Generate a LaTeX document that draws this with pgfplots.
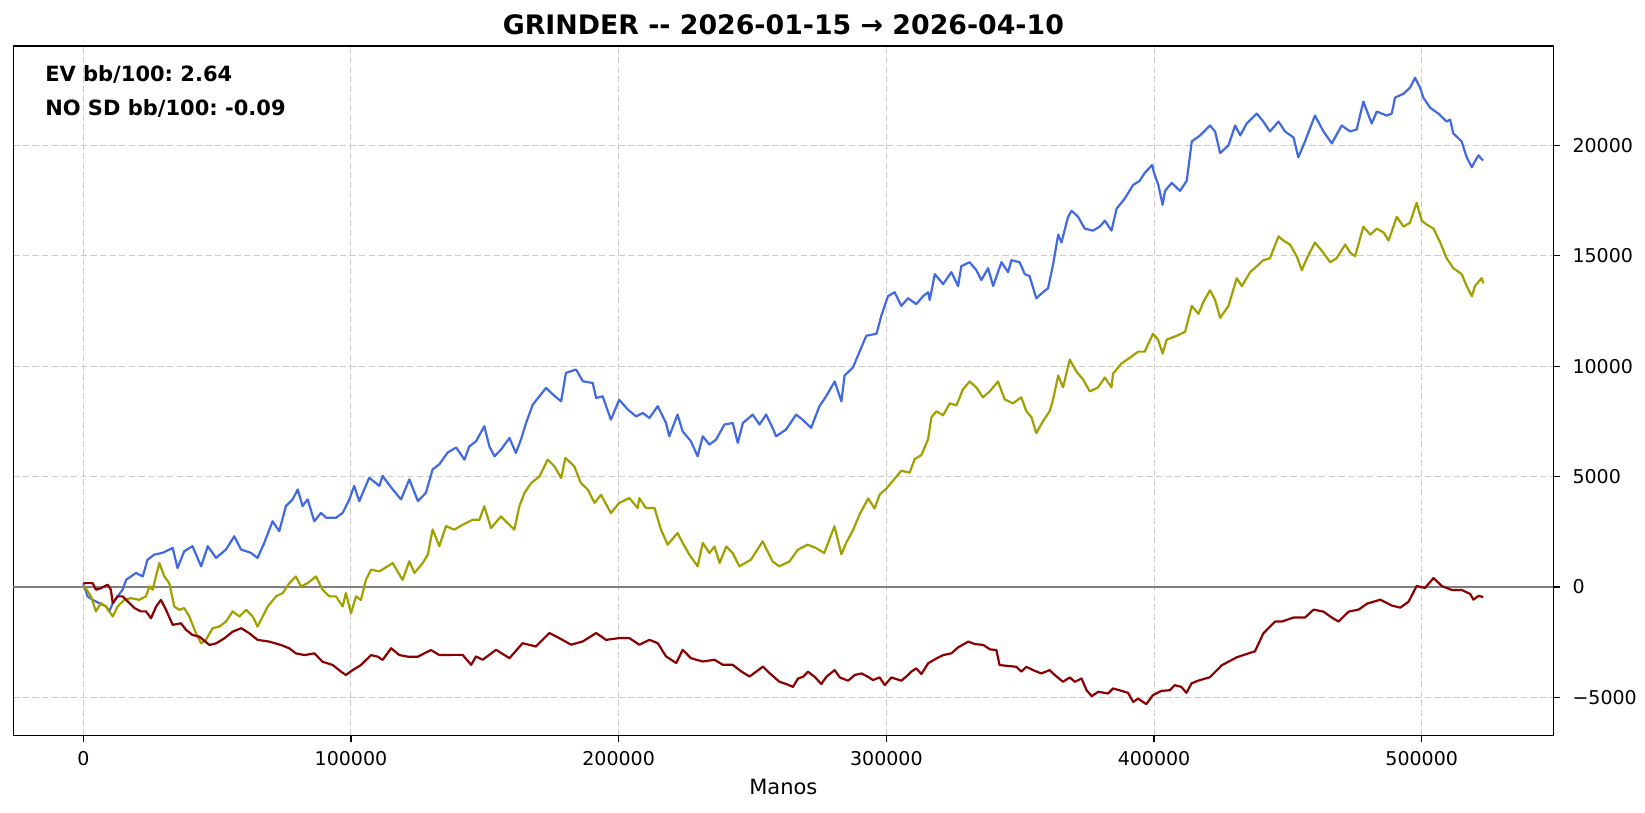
\documentclass[border=0pt]{standalone}
\usepackage{fontspec}
\setmainfont{DejaVu Sans}
\usepackage{pgfplots}
\pgfplotsset{compat=1.18}

\definecolor{evblue}{RGB}{65,105,225}
\definecolor{netolive}{RGB}{160,160,0}
\definecolor{nsdred}{RGB}{139,0,0}

\begin{document}
\frenchspacing
\begin{tikzpicture}
\begin{axis}[
  at={(0,0)}, anchor=south west,
  scale only axis,
  width=770pt, height=344.75pt,
  xmin=-26150, xmax=549150,
  ymin=-6720, ymax=24500,
  scaled ticks=false,
  xtick={0,100000,200000,300000,400000,500000},
  xticklabels={0,100000,200000,300000,400000,500000},
  ytick={-5000,0,5000,10000,15000,20000},
  yticklabels={−5000,0,5000,10000,15000,20000},
  xtick pos=bottom, ytick pos=right, yticklabel pos=right,
  tick align=outside,
  major tick length=3.4pt,
  tick style={black, line width=0.7pt},
  axis line style={black, line width=0.75pt},
  grid=major,
  grid style={black!20, line width=0.5pt, dash pattern=on 3.2pt off 1.6pt},
  ticklabel style={font=\fontsize{9.5}{11}\selectfont},
  xticklabel style={anchor=base, yshift=-11.7pt},
  yticklabel style={anchor=west, inner sep=0pt, xshift=6pt},
  xlabel={Manos},
  xlabel style={at={(axis description cs:0.5,0)}, anchor=base, yshift=-29.4pt, font=\fontsize{10.5}{12}\selectfont},
  title={GRINDER -\kern0pt- 2026-01-15 → 2026-04-10},
  title style={at={(axis description cs:0.5,1)}, anchor=base, yshift=-0.5pt, font=\bfseries\fontsize{13.4}{15}\selectfont},
  every axis plot/.append style={line width=1.1pt, line join=round},
]
% zero line
\addplot[gray, line width=0.8pt] coordinates {(-26150,0) (549150,0)};

% EV (blue)
\addplot[evblue] coordinates {
(0,180) (1600,-420) (3500,-580) (6000,-730) (8500,-880) (9700,-1100) (11000,-730)
(12800,-420) (14700,-120) (16000,330) (17800,480) (19700,640) (22200,480) (24000,1240)
(26500,1470) (29600,1550) (33400,1770) (35200,860) (37700,1620) (40800,1850) (44000,940)
(46500,1850) (49600,1320) (53300,1700) (56400,2300) (58900,1700) (62600,1550) (65100,1320)
(67600,2000) (70700,2980) (73200,2530) (75700,3670) (78200,3970) (80100,4420) (81900,3670)
(83800,3970) (86300,2980) (88800,3360) (90700,3140) (94400,3140) (96900,3360) (99400,3970)
(101200,4580) (103100,3890) (106800,4950) (110600,4580) (111800,5030) (115600,4420)
(118700,3970) (121800,4880) (125000,3890) (128000,4270) (130500,5330) (133000,5560)
(136100,6090) (139300,6320) (142400,5770) (144200,6370) (146700,6600) (149800,7280)
(151700,6370) (153600,5920) (156000,6220) (159200,6750) (161600,6070) (163500,6680)
(165400,7430) (167900,8260) (170400,8640) (172900,9020) (175400,8720) (178500,8410)
(180300,9700) (184100,9850) (186600,9320) (190300,9240) (191600,8560) (194000,8640)
(197100,7580) (200200,8480) (203400,8040) (206500,7730) (209000,7880) (211500,7660)
(214600,8190) (217700,7430) (218900,6830) (222000,7810) (223900,7050) (227000,6600)
(229500,5920) (231400,6830) (233900,6450) (236400,6680) (239500,7360) (242600,7430)
(244500,6530) (246400,7430) (250100,7810) (252600,7360) (255100,7810) (257500,7210)
(258800,6830) (262500,7130) (266300,7810) (268700,7580) (271900,7210) (275000,8190)
(277500,8640) (280700,9310) (283200,8410) (284400,9580) (287500,9940) (290000,10660)
(292500,11380) (296300,11470) (298100,12280) (300600,13170) (303100,13350) (305600,12730)
(308100,13080) (311200,12810) (313700,13170) (315600,13350) (316200,13000) (318100,14170)
(321200,13720) (324300,14260) (326800,13630) (328000,14530) (331100,14710) (333600,14350)
(335500,13900) (338000,14440) (339900,13630) (343000,14710) (345500,14260) (346700,14800)
(349800,14710) (351700,14170) (353500,14080) (356000,13080) (358500,13350) (360400,13530)
(362300,14620) (364200,15960) (365400,15600) (367900,16770) (369200,17040) (371600,16770)
(374100,16230) (377200,16140) (379700,16320) (381600,16590) (384100,16140) (386000,17130)
(389000,17580) (392200,18210) (394600,18390) (396500,18750) (399300,19110) (400000,18750)
(401600,18210) (403200,17310) (404100,17940) (406600,18300) (409700,17940) (412200,18390)
(414100,20180) (417200,20450) (420900,20900) (422800,20630) (424700,19650) (427800,20000)
(430300,20900) (432200,20450) (434600,20990) (438400,21440) (440800,21080) (443300,20630)
(446500,21080) (448900,20630) (452100,20360) (453900,19460) (456400,20180) (460100,21350)
(463300,20630) (466400,20090) (470100,20900) (473200,20630) (475700,20720) (478200,21980)
(481300,20990) (483200,21530) (486900,21350) (488800,21440) (490000,22160) (493200,22340)
(495600,22610) (497500,23060) (499400,22610) (500600,22160) (503100,21710) (506200,21440)
(509300,21080) (510600,21170) (511800,20540) (514900,20180) (516800,19460) (518700,19010)
(519900,19280) (521200,19550) (522400,19370) (523000,19320)
};

% net won (olive)
\addplot[netolive] coordinates {
(0,100) (2900,-420) (4700,-1100) (6600,-730) (8500,-880) (11000,-1330) (12800,-880)
(15300,-580) (17800,-500) (20900,-580) (23400,-420) (24700,30) (25900,-120) (28400,1090)
(30300,480) (32100,180) (34000,-880) (35900,-1030) (37700,-950) (39600,-1330) (42100,-2090)
(44000,-2550) (45800,-2390) (48300,-1860) (50800,-1790) (53300,-1560) (55800,-1100)
(58300,-1330) (60800,-1030) (63300,-1330) (65100,-1790) (67000,-1330) (68900,-880)
(72000,-420) (74500,-270) (77000,180) (79400,480) (81300,30) (83800,180) (86900,480)
(89400,-120) (91900,-420) (94400,-420) (96900,-880) (98100,-270) (100000,-1180)
(101900,-420) (103700,-580) (105600,330) (107500,790) (110600,710) (113700,940)
(115600,1090) (118100,560) (119300,330) (121800,1170) (123700,640) (126800,1090)
(128700,1470) (130500,2610) (133000,1850) (135500,2760) (138600,2600) (141700,2820)
(145500,3050) (148000,3050) (149800,3660) (152300,2670) (156000,3200) (158500,2900)
(161000,2600) (162900,3660) (164800,4260) (167300,4710) (170400,5010) (173500,5770)
(176000,5470) (178500,4940) (180100,5850) (183400,5470) (185900,4710) (188500,4410)
(191000,3810) (193400,4180) (197100,3350) (200200,3810) (204000,4030) (207100,3580)
(207700,4030) (210200,3580) (213400,3580) (215800,2600) (218300,1920) (222000,2450)
(223900,2000) (226400,1470) (229500,940) (231400,2000) (233900,1540) (235800,1840)
(237700,1090) (240200,1840) (242600,1540) (245100,940) (249400,1240) (253800,2070)
(257500,1160) (260000,940) (263800,1160) (266900,1690) (270600,1920) (273700,1770)
(276800,1540) (278700,2150) (280600,2750) (283200,1490) (285100,2030) (287500,2570)
(290000,3290) (293200,4010) (295600,3560) (297500,4190) (300000,4460) (302500,4820)
(305600,5270) (308700,5180) (310600,5800) (313100,5980) (315600,6700) (316800,7690)
(318700,7960) (321200,7780) (323700,8320) (326200,8230) (328600,8950) (331100,9310)
(333600,9040) (336100,8590) (338600,8860) (341700,9310) (344200,8500) (347300,8320)
(350400,8590) (352300,7960) (354200,7690) (356000,6970) (358500,7510) (361000,7960)
(362300,8500) (364200,9580) (366000,9040) (368500,10300) (371000,9760) (373500,9400)
(376000,8860) (379100,9040) (381600,9490) (384100,9040) (384700,9670) (387800,10120)
(391000,10390) (394100,10660) (396500,10660) (399600,11470) (401500,11200) (403200,10570)
(404700,11200) (408500,11380) (411600,11560) (414100,12730) (416600,12370) (418400,12910)
(420900,13440) (422800,13000) (424700,12190) (427800,12730) (430900,13990) (432800,13630)
(435900,14260) (438400,14530) (440800,14800) (443300,14890) (446500,15880) (448300,15690)
(450800,15510) (453300,14980) (455200,14350) (457100,14890) (460100,15600) (462600,15240)
(465800,14710) (468200,14890) (471400,15510) (473200,15150) (475100,14980) (478200,16320)
(480800,15960) (483200,16230) (485800,16050) (487600,15690) (490700,16770) (493200,16320)
(495600,16500) (498100,17400) (500000,16590) (501900,16410) (504400,16230) (506900,15600)
(509300,14890) (511800,14440) (514900,14170) (516800,13630) (518700,13170) (519900,13630)
(522400,13990) (523000,13750)
};

% non-showdown (dark red)
\addplot[nsdred] coordinates {
(0,180) (2200,180) (3500,180) (4700,-120) (6600,-50) (9100,110) (10300,-120) (11000,-730)
(12800,-420) (14700,-420) (16600,-650) (19100,-950) (21500,-1100) (23400,-1100)
(25300,-1410) (27200,-880) (29000,-580) (30900,-1030) (33400,-1710) (36500,-1640)
(38400,-1940) (40800,-2170) (43300,-2240) (47100,-2620) (49600,-2550) (52700,-2320)
(55800,-2020) (59000,-1860) (62000,-2090) (65100,-2390) (69500,-2470) (73800,-2620)
(76900,-2770) (79400,-3000) (82600,-3080) (86300,-3000) (89400,-3380) (93200,-3530)
(96300,-3830) (98100,-3980) (100600,-3760) (103700,-3530) (107500,-3080) (110000,-3150)
(111800,-3300) (115000,-2770) (118100,-3080) (121200,-3150) (125000,-3150) (127400,-3000)
(129900,-2850) (133000,-3080) (138000,-3070) (141700,-3070) (144900,-3520) (146700,-3140)
(149200,-3290) (154200,-2840) (159200,-3220) (164100,-2540) (169100,-2690) (174100,-2080)
(177800,-2310) (182200,-2610) (186600,-2460) (191600,-2080) (195300,-2390) (200200,-2310)
(204000,-2310) (207700,-2610) (211500,-2390) (214600,-2540) (217700,-3140) (221500,-3440)
(223900,-2840) (227000,-3220) (231400,-3370) (235800,-3290) (238900,-3520) (242600,-3520)
(245800,-3820) (248900,-4050) (253900,-3600) (256400,-3900) (260100,-4290) (262600,-4390)
(265100,-4520) (267000,-4140) (268900,-4060) (270700,-3830) (273200,-4060) (275700,-4390)
(277600,-4060) (280700,-3760) (282600,-4090) (285700,-4240) (288200,-3980) (290700,-3910)
(293100,-4060) (295000,-4210) (297500,-4090) (299400,-4440) (301900,-4090) (305600,-4240)
(308100,-3980) (309300,-3830) (311200,-3680) (313100,-3940) (315600,-3450) (318700,-3230)
(321200,-3080) (324300,-3000) (326800,-2730) (330600,-2470) (333100,-2580) (336200,-2620)
(338700,-2820) (341100,-2850) (342300,-3530) (346100,-3580) (348600,-3610) (350400,-3830)
(352300,-3610) (354800,-3760) (357900,-3910) (361000,-3760) (362900,-3980) (366000,-4290)
(368500,-4090) (370400,-4290) (372900,-4140) (374800,-4670) (376700,-4940) (379200,-4740)
(382800,-4820) (384700,-4590) (387900,-4700) (390300,-4790) (392200,-5200) (394000,-5050)
(397100,-5300) (399600,-4890) (402700,-4700) (405900,-4670) (407700,-4440) (410200,-4520)
(412100,-4790) (414000,-4360) (416400,-4240) (420900,-4080) (425300,-3540) (430900,-3180)
(435300,-3000) (437700,-2910) (440800,-2100) (445200,-1560) (447700,-1560) (452100,-1380)
(456400,-1380) (459600,-1020) (463300,-1110) (466400,-1380) (468900,-1560) (472700,-1110)
(476400,-1020) (479600,-750) (484500,-570) (488900,-840) (492000,-930) (495100,-660)
(498100,50) (501200,-40) (504400,410) (507500,50) (511200,-130) (514900,-130) (518100,-310)
(519300,-570) (521200,-400) (523000,-450)
};

\node[anchor=base west, inner sep=0pt, font=\bfseries\fontsize{10.5}{12}\selectfont] at (rel axis cs:0.0205,0.949) {EV bb/100: 2.64};
\node[anchor=base west, inner sep=0pt, font=\bfseries\fontsize{10.5}{12}\selectfont] at (rel axis cs:0.0205,0.8999) {NO SD bb/100: -0.09};
\end{axis}
\pgfresetboundingbox
\useasboundingbox (-6.65pt,-38.75pt) rectangle (815.85pt,367.75pt);
\end{tikzpicture}
\end{document}
